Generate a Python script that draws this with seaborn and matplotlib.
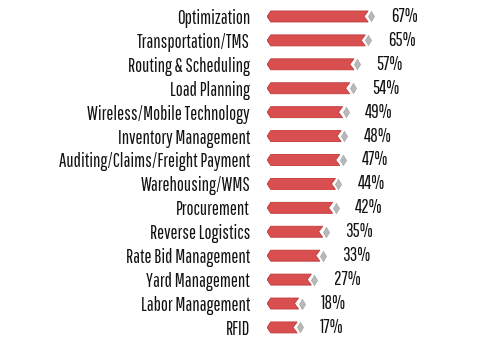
import matplotlib
matplotlib.use("Agg")
import matplotlib.pyplot as plt
from matplotlib.patches import Polygon
import seaborn as sns
import pandas as pd

categories = [
    "Optimization", "Transportation/TMS", "Routing & Scheduling", "Load Planning",
    "Wireless/Mobile Technology", "Inventory Management",
    "Auditing/Claims/Freight Payment", "Warehousing/WMS", "Procurement",
    "Reverse Logistics", "Rate Bid Management", "Yard Management",
    "Labor Management", "RFID",
]
values = [67, 65, 57, 54, 49, 48, 47, 44, 42, 35, 33, 27, 18, 17]
value_labels = [f"{v}%" for v in values]

df = pd.DataFrame({"category": categories, "value": values})

sns.set_theme(style="white")
plt.rcParams["font.family"] = ["Pathway Gothic One", "DejaVu Sans"]

BAR_RED = "#d94f50"
EDGE_RED = "#c23a3b"
DIAMOND = "#b8b8b8"

fig = plt.figure(figsize=(4.8, 3.5), dpi=100)
ax = fig.add_axes([0.5558, 0.0303, 0.4185, 0.9568])

sns.barplot(data=df, x="value", y="category", orient="h", color=BAR_RED,
            width=0.46, ax=ax)

# turn each plain bar into an arrow-shaped shaft: pointed tail, notched head
tail_start = -6.3
tail_point = 2.6
head_gap = 2.1
notch = 2.9
for patch in list(ax.patches):
    y0 = patch.get_y()
    h = patch.get_height()
    v = patch.get_width()
    yc = y0 + h / 2
    xr = v - head_gap
    pts = [
        (tail_start, yc),
        (tail_start + tail_point, y0),
        (xr, y0),
        (xr - notch, yc),
        (xr, y0 + h),
        (tail_start + tail_point, y0 + h),
    ]
    ax.add_patch(Polygon(pts, closed=True, facecolor=BAR_RED,
                         edgecolor=EDGE_RED, linewidth=0.6, zorder=3))
    patch.remove()

# tall grey diamond marking the tip of each value
tall_diamond = [(0, 1), (0.6, 0), (0, -1), (-0.6, 0), (0, 1)]
sns.scatterplot(data=df, x="value", y="category", marker=tall_diamond, s=55,
                color=DIAMOND, edgecolor="#a0a0a0", linewidth=0.4,
                ax=ax, zorder=4, legend=False)

for i, (v, lab) in enumerate(zip(values, value_labels)):
    ax.text(v + 13.8, i, lab, va="center", ha="left", fontsize=13.5,
            color="#111111")

ax.set_xlim(-6.5, 135)
ax.set_ylim(len(categories) - 0.5, -0.5)
ax.set_xlabel("")
ax.set_ylabel("")
ax.set_xticks([])
ax.tick_params(axis="y", length=0, pad=12, labelsize=13.5, labelcolor="#111111")
for s in ax.spines.values():
    s.set_visible(False)

fig.savefig("out.png", dpi=100)
